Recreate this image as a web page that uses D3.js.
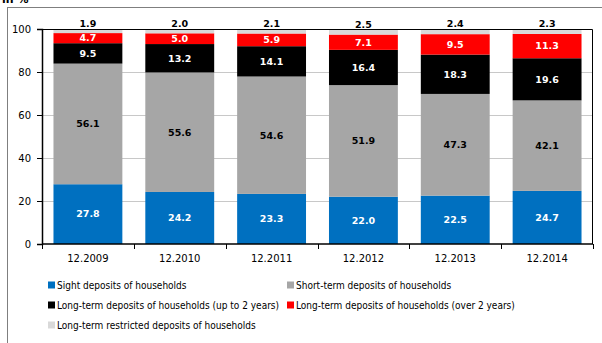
<!DOCTYPE html>
<html>
<head>
<meta charset="utf-8">
<script src="https://cdn.jsdelivr.net/npm/d3@7"></script>
<style>
  html, body { margin: 0; padding: 0; background: #fff; }
  svg { display: block; font-family: "DejaVu Sans", Verdana, sans-serif; }
</style>
</head>
<body>
<svg id="chart" width="602" height="343"></svg>
<script>
// Household deposit structure, in % of total
const periods = ["12.2009", "12.2010", "12.2011", "12.2012", "12.2013", "12.2014"];
const sight = [27.8, 24.2, 23.3, 22.0, 22.5, 24.7];
const shortTerm = [56.1, 55.6, 54.6, 51.9, 47.3, 42.1];
const longUpTo2 = [9.5, 13.2, 14.1, 16.4, 18.3, 19.6];
const longOver2 = [4.7, 5.0, 5.9, 7.1, 9.5, 11.3];
const restricted = [1.9, 2.0, 2.1, 2.5, 2.4, 2.3];
const yTicks = [0, 20, 40, 60, 80, 100];

const series = [
  { name: "Sight deposits of households", values: sight, color: "#0070C0", text: "#fff" },
  { name: "Short-term deposits of households", values: shortTerm, color: "#A6A6A6", text: "#000" },
  { name: "Long-term deposits of households (up to 2 years)", values: longUpTo2, color: "#000000", text: "#fff" },
  { name: "Long-term deposits of households (over 2 years)", values: longOver2, color: "#FF0000", text: "#fff" },
  { name: "Long-term restricted deposits of households", values: restricted, color: "#D9D9D9", text: "#000", outside: true }
];

const svg = d3.select("#chart");
const margin = { left: 42, right: 9, top: 29, bottom: 99 };
const W = 602, H = 343;
const plotW = W - margin.left - margin.right;
const plotH = H - margin.top - margin.bottom;

// Page frame and unit caption
svg.append("text").attr("x", 2).attr("y", 3).attr("font-size", 11).attr("font-weight", "bold")
  .attr("fill", "#000").text("in %");
svg.append("line").attr("x1", 7).attr("x2", W).attr("y1", 7.5).attr("y2", 7.5)
  .attr("stroke", "#7f7f7f").attr("stroke-width", 1);
svg.append("line").attr("x1", 7.5).attr("x2", 7.5).attr("y1", 7).attr("y2", H)
  .attr("stroke", "#7f7f7f").attr("stroke-width", 1);

const g = svg.append("g").attr("transform", `translate(${margin.left},${margin.top})`);

const x = d3.scaleBand().domain(periods).range([0, plotW]).paddingInner(0.25).paddingOuter(0.125);
const y = d3.scaleLinear().domain([0, 100]).range([plotH, 0]);

// Gridlines
g.append("g").selectAll("line").data(yTicks.filter(t => t > 0 && t < 100)).join("line")
  .attr("x1", 0).attr("x2", plotW)
  .attr("y1", d => Math.round(y(d)) + 0.5).attr("y2", d => Math.round(y(d)) + 0.5)
  .attr("stroke", "#c8c8c8").attr("stroke-width", 1);

// Stacked bars
const rows = periods.map((p, i) => {
  const r = { period: p };
  series.forEach((s, k) => r["s" + k] = s.values[i]);
  return r;
});
const stack = d3.stack().keys(series.map((s, k) => "s" + k));
const layers = stack(rows);

layers.forEach((layer, k) => {
  const s = series[k];
  const lg = g.append("g");
  lg.selectAll("rect").data(layer).join("rect")
    .attr("x", d => x(d.data.period))
    .attr("width", x.bandwidth())
    .attr("y", d => y(d[1]))
    .attr("height", d => y(d[0]) - y(d[1]))
    .attr("fill", s.color);
  lg.selectAll("text").data(layer).join("text")
    .attr("x", d => x(d.data.period) + x.bandwidth() / 2)
    .attr("y", d => s.outside ? y(d[1]) - 5 : (y(d[0]) + y(d[1])) / 2)
    .attr("dy", "0.35em")
    .attr("text-anchor", "middle")
    .attr("font-size", 9.5)
    .attr("font-weight", "bold")
    .attr("fill", s.text)
    .text(d => (d[1] - d[0]).toFixed(1));
});

// Plot frame (top and right)
g.append("path").attr("d", `M0,0.5H${plotW - 0.5}V${plotH}`)
  .attr("fill", "none").attr("stroke", "#000").attr("stroke-width", 1);

// Y axis
const yAxis = g.append("g").call(d3.axisLeft(y).tickValues(yTicks).tickSize(5).tickPadding(6));
yAxis.select(".domain").attr("stroke", "#000").attr("stroke-width", 1.5);
yAxis.selectAll("text").attr("font-size", 10).attr("font-family", "DejaVu Sans").attr("fill", "#000");

// X axis with ticks between categories
const xg = g.append("g").attr("transform", `translate(0,${plotH})`);
xg.append("line").attr("x1", 0).attr("x2", plotW).attr("y1", 0).attr("y2", 0)
  .attr("stroke", "#000").attr("stroke-width", 1.5);
const step = x.step();
xg.selectAll("line.tk").data(d3.range(periods.length + 1)).join("line").attr("class", "tk")
  .attr("x1", i => Math.round(x(periods[0]) - x.paddingOuter() * step + i * step) + 0.5)
  .attr("x2", i => Math.round(x(periods[0]) - x.paddingOuter() * step + i * step) + 0.5)
  .attr("y1", 0).attr("y2", 5).attr("stroke", "#000");
xg.selectAll("text").data(periods).join("text")
  .attr("x", d => x(d) + x.bandwidth() / 2)
  .attr("y", 18)
  .attr("text-anchor", "middle")
  .attr("font-size", 10)
  .attr("fill", "#000")
  .text(d => d);

// Legend
const legendPos = [
  { x: 48, y: 285 }, { x: 287, y: 285 },
  { x: 48, y: 305 }, { x: 287, y: 305 },
  { x: 48, y: 325 }
];
const lg = svg.append("g").attr("font-family", "'DejaVu Sans Condensed', 'DejaVu Sans', sans-serif");
series.forEach((s, k) => {
  const p = legendPos[k];
  lg.append("rect").attr("x", p.x).attr("y", p.y - 3.5).attr("width", 7).attr("height", 7).attr("fill", s.color);
  lg.append("text").attr("x", p.x + 9).attr("y", p.y).attr("dy", "0.35em")
    .attr("font-size", 10).attr("fill", "#000").text(s.name);
});
</script>
</body>
</html>
